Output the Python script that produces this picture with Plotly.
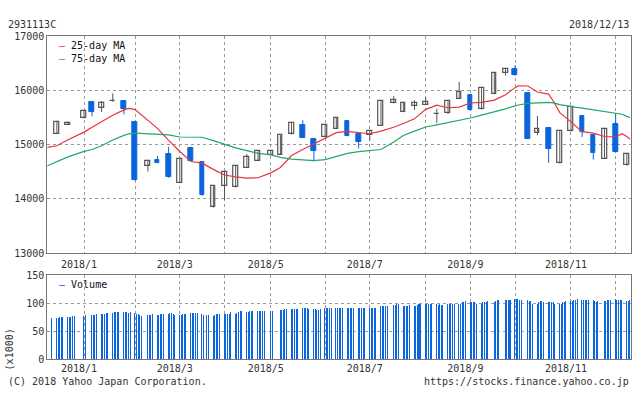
import plotly.graph_objects as go
import pandas as pd

# ---------------- data ----------------
candle_dates = ["2017-12-18", "2017-12-25", "2018-01-04", "2018-01-09", "2018-01-15", "2018-01-22",
                "2018-01-29", "2018-02-05", "2018-02-13", "2018-02-19", "2018-02-26", "2018-03-05",
                "2018-03-12", "2018-03-19", "2018-03-26", "2018-04-02", "2018-04-09", "2018-04-16",
                "2018-04-23", "2018-05-01", "2018-05-07", "2018-05-14", "2018-05-21", "2018-05-28",
                "2018-06-04", "2018-06-11", "2018-06-18", "2018-06-25", "2018-07-02", "2018-07-09",
                "2018-07-17", "2018-07-23", "2018-07-30", "2018-08-06", "2018-08-13", "2018-08-20",
                "2018-08-27", "2018-09-03", "2018-09-10", "2018-09-18", "2018-09-25", "2018-10-01",
                "2018-10-09", "2018-10-15", "2018-10-22", "2018-10-29", "2018-11-05", "2018-11-12",
                "2018-11-19", "2018-11-26", "2018-12-03", "2018-12-10"]
open_ = [15200, 15370, 15487, 15785, 15673, 15795, 15803, 15410, 14599, 14717, 14819, 14295,
         14945, 14682, 13848, 14234, 14216, 14574, 14706, 14814, 14814, 15190, 15361, 15111,
         15141, 15290, 15428, 15201, 15172, 15350, 15762, 15601, 15708, 15737, 15556, 15576,
         15844, 15905, 15648, 15934, 16317, 16394, 15959, 15218, 15302, 14653, 15243, 15529,
         15172, 14742, 15380, 14617]
high = [15420, 15425, 15625, 15790, 15803, 15946, 15810, 15410, 14700, 14789, 14962, 14735,
        14950, 14690, 14235, 14500, 14610, 14825, 14880, 14890, 15175, 15395, 15451, 15115,
        15365, 15499, 15432, 15205, 15255, 15802, 15898, 15766, 15816, 15869, 15660, 15802,
        16156, 15910, 16040, 16320, 16398, 16465, 15963, 15529, 15306, 15247, 15700, 15533,
        15176, 15302, 15571, 14836]
low = [15195, 15365, 15485, 15522, 15601, 15790, 15558, 14340, 14503, 14660, 14390, 14290,
       14690, 14060, 13840, 13980, 14210, 14570, 14700, 14810, 14810, 15185, 15125, 14694,
       15135, 15285, 15155, 14932, 15082, 15345, 15758, 15597, 15637, 15733, 15397, 15560,
       15840, 15626, 15644, 15930, 16274, 16270, 15107, 15172, 14664, 14649, 15239, 15141,
       14724, 14738, 14857, 14613]
close = [15410, 15405, 15619, 15601, 15767, 15800, 15648, 14349, 14694, 14664, 14395, 14730,
         14694, 14068, 14229, 14497, 14604, 14766, 14873, 14885, 15172, 15392, 15129, 14873,
         15361, 15481, 15159, 15039, 15249, 15798, 15816, 15762, 15767, 15785, 15560, 15798,
         15977, 15630, 16036, 16317, 16394, 16274, 15111, 15279, 14914, 15243, 15696, 15231,
         14843, 15279, 14861, 14832]

ma_dates = ["2017-12-12", "2017-12-18", "2017-12-25", "2018-01-04", "2018-01-09", "2018-01-15",
            "2018-01-22", "2018-01-29", "2018-02-01", "2018-02-05", "2018-02-13", "2018-02-19",
            "2018-02-26", "2018-03-05", "2018-03-12", "2018-03-19", "2018-03-26", "2018-04-02",
            "2018-04-09", "2018-04-16", "2018-04-23", "2018-05-01", "2018-05-07", "2018-05-14",
            "2018-05-21", "2018-05-28", "2018-06-04", "2018-06-11", "2018-06-18", "2018-06-25",
            "2018-07-02", "2018-07-09", "2018-07-17", "2018-07-23", "2018-07-30", "2018-08-06",
            "2018-08-13", "2018-08-20", "2018-08-27", "2018-09-03", "2018-09-10", "2018-09-18",
            "2018-09-25", "2018-10-01", "2018-10-03", "2018-10-09", "2018-10-15", "2018-10-22",
            "2018-10-25", "2018-10-29", "2018-11-02", "2018-11-05", "2018-11-12", "2018-11-19",
            "2018-11-26", "2018-12-03", "2018-12-07", "2018-12-10", "2018-12-12"]
ma25 = [14950, 14980, 15090, 15231, 15320, 15425,
        15540, 15640, 15666, 15645, 15450, 15300,
        15080, 14873, 14690, 14660, 14545, 14440,
        14405, 14384, 14390, 14480, 14580, 14800,
        14910, 15010, 15120, 15220, 15243, 15225,
        15201, 15250, 15320, 15390, 15475, 15650,
        15726, 15680, 15690, 15767, 15780, 15820,
        15920, 16050, 16084, 16080, 15970, 15930,
        15800, 15590, 15499, 15420, 15240, 15213,
        15150, 15145, 15200, 15150, 15100]
ma75 = [14610, 14690, 14775, 14875, 14910, 14980,
        15085, 15170, 15200, 15213, 15200, 15195,
        15180, 15141, 15136, 15136, 15075, 15010,
        14940, 14890, 14840, 14812, 14765, 14735,
        14718, 14707, 14724, 14775, 14840, 14870,
        14890, 14910, 15050, 15170, 15250, 15325,
        15365, 15405, 15440, 15490, 15545, 15603,
        15660, 15715, 15730, 15760, 15770, 15779,
        15770, 15737, 15719, 15700, 15672, 15640,
        15605, 15580, 15560, 15520, 15499]

market_holidays = ["2018-01-01", "2018-01-02", "2018-01-03", "2018-01-08", "2018-02-12", "2018-03-21",
                   "2018-04-30", "2018-05-03", "2018-05-04", "2018-07-16", "2018-09-17", "2018-09-24",
                   "2018-10-08", "2018-11-23"]

volume_k = [73,
            73, 74, 75, 75, 75,
            75, 75, 75, 76, 77,
            77, 78,
            78, 79, 79, 80,
            80, 81, 81, 82, 82,
            83, 84, 84, 84, 84,
            84, 84, 84, 83, 84,
            82, 81, 80, 79, 77,
            78, 78, 79, 80,
            78, 79, 80, 80, 80,
            81, 82, 82, 81, 79,
            79, 79, 80, 81, 81,
            82, 82, 82, 82, 82,
            81, 79, 78, 78,
            77, 79, 80, 80, 81,
            81, 80, 80, 81, 84,
            81, 83, 84, 85, 85,
            84, 84, 85, 86, 86,
            86, 86, 86, 86, 86,
            86, 86,
            87, 87, 88, 89, 90,
            90, 90, 90, 90, 90,
            91, 91, 91, 91, 90,
            90, 89, 88, 88, 90,
            91, 91, 91, 92, 92,
            92, 92, 92, 92, 92,
            92, 92, 92, 92, 91,
            92, 91, 91, 91, 91,
            92, 92, 92, 92, 92,
            94, 94, 95, 95, 95,
            96, 97, 98, 98,
            95, 95, 95, 95, 97,
            95, 95, 96, 98, 98,
            98, 99, 98, 98, 98,
            98, 97, 98, 97, 97,
            98, 98, 98, 99, 99,
            99, 99, 101, 102, 103,
            101, 101, 101, 101, 99,
            99, 101, 101, 101, 103,
            101, 103, 105, 105,
            105, 105, 105, 106,
            107, 107, 107, 106, 106,
            105, 104, 103, 99,
            99, 101, 103, 103, 101,
            101, 101, 101, 101, 98,
            98, 99, 101, 101, 103,
            103, 104, 105, 106, 107,
            106, 105, 105, 105, 105,
            105, 103, 101, 103,
            103, 104, 105, 106, 106,
            107, 106, 105, 105, 105,
            103, 103, 105, 105]

month_grid_dates = ["2018-01-04", "2018-02-05", "2018-03-05", "2018-04-02", "2018-05-01", "2018-06-04",
                    "2018-07-02", "2018-08-06", "2018-09-03", "2018-10-01", "2018-11-05", "2018-12-03"]
month_labels = ["2018/1", "", "2018/3", "", "2018/5", "", "2018/7", "", "2018/9", "", "2018/11", ""]
price_ticks = [13000, 14000, 15000, 16000, 17000]
volume_ticks = [0, 50, 100, 150]

# ---------------- styling ----------------
W, H = 634, 394
BLUE = "#0a64dc"
BLUE_BAR = "rgba(10,100,220,0.995)"   # alpha < 1 -> plotly rounds thin bars to 1px instead of widening
UPLINE = "#555555"
RED = "#e8343c"
GREEN = "#1fa866"
FONT = "DejaVu Sans Mono"
DAY_MS = 86400000

trade_days = pd.bdate_range("2017-12-15", "2018-12-13", freq="C", holidays=market_holidays)
n = min(len(trade_days), len(volume_k))
trade_days = trade_days[:n]
vols = volume_k[:n]

up_idx = [i for i in range(len(candle_dates)) if close[i] >= open_[i]]
dn_idx = [i for i in range(len(candle_dates)) if close[i] < open_[i]]


def wick_xy(idx):
    xs, ys = [], []
    for i in idx:
        xs += [candle_dates[i], candle_dates[i], None]
        ys += [low[i], high[i], None]
    return xs, ys


fig = go.Figure()

for idx, col in ((up_idx, UPLINE), (dn_idx, BLUE)):
    wx, wy = wick_xy(idx)
    fig.add_trace(go.Scatter(x=wx, y=wy, mode="lines", line=dict(color=col, width=1),
                             hoverinfo="skip", xaxis="x", yaxis="y"))

fig.add_trace(go.Scatter(x=ma_dates, y=ma25, mode="lines", line=dict(color=RED, width=1.2),
                         name="25-day MA", xaxis="x", yaxis="y"))
fig.add_trace(go.Scatter(x=ma_dates, y=ma75, mode="lines", line=dict(color=GREEN, width=1.2),
                         name="75-day MA", xaxis="x", yaxis="y"))

fig.add_trace(go.Bar(x=[candle_dates[i] for i in up_idx],
                     y=[max(close[i] - open_[i], 4) for i in up_idx],
                     base=[open_[i] for i in up_idx],
                     width=2.9 * DAY_MS,
                     marker=dict(color="white", line=dict(color=UPLINE, width=1.2)),
                     xaxis="x", yaxis="y"))
fig.add_trace(go.Bar(x=[candle_dates[i] for i in dn_idx],
                     y=[open_[i] - close[i] for i in dn_idx],
                     base=[close[i] for i in dn_idx],
                     width=2.9 * DAY_MS,
                     marker=dict(color=BLUE, line=dict(color=BLUE, width=1)),
                     xaxis="x", yaxis="y"))

fig.add_trace(go.Bar(x=trade_days, y=vols, width=0.63 * DAY_MS,
                     marker=dict(color=BLUE_BAR, line=dict(width=0)),
                     name="Volume", xaxis="x2", yaxis="y2"))

xdom = [47.3 / W, 630.7 / W]
xrange_ = ["2017-12-12 00:00", "2018-12-12 10:00"]
grid = dict(showgrid=True, gridcolor="#9a9a9a", gridwidth=1, griddash="3px,3px",
            showline=True, mirror=True, linecolor="#777777", linewidth=1,
            ticks="", zeroline=False, tickfont=dict(family=FONT, size=10, color="#333333"))

fig.update_layout(
    width=W, height=H, margin=dict(l=0, r=0, t=0, b=0),
    paper_bgcolor="white", plot_bgcolor="white",
    showlegend=False, barmode="overlay", bargap=0,
    font=dict(family=FONT, size=10, color="#333333"),
    xaxis=dict(domain=xdom, type="date", range=xrange_, tickvals=month_grid_dates,
               ticktext=month_labels, ticklabelshift=-5, ticklabelstandoff=2, anchor="y", **grid),
    yaxis=dict(domain=[1 - 255 / H, 1 - 31 / H], range=[13000, 17000], tickvals=price_ticks,
               ticktext=[str(v) for v in price_ticks], anchor="x", **grid),
    xaxis2=dict(domain=xdom, type="date", range=xrange_, tickvals=month_grid_dates,
                ticktext=month_labels, ticklabelshift=-5, anchor="y2", **grid),
    yaxis2=dict(domain=[1 - 364.3 / H, 1 - 277.6 / H], range=[0, 150], tickvals=volume_ticks,
                ticktext=[str(v) for v in volume_ticks], anchor="x2", **grid),
)


def ann(text, x, y, xanchor="left", angle=0, color="#333333"):
    fig.add_annotation(text=text, x=x / W, y=1 - y / H, xref="paper", yref="paper",
                       xanchor=xanchor, yanchor="middle", showarrow=False, textangle=angle,
                       font=dict(family=FONT, size=10, color=color))


ann("2931113C", 6, 19.5)
ann("2018/12/13", 631, 19.5, xanchor="right")
ann(f'<span style="color:{RED}">\u2013</span> 25-day MA', 56.5, 41, color="#111111")
ann(f'<span style="color:{GREEN}">\u2013</span> 75-day MA', 56.5, 54, color="#111111")
ann(f'<span style="color:{BLUE}">\u2013</span> Volume', 56.5, 287, color="#111111")
ann("(x1000)", 9.7, 354.5, xanchor="center", angle=-90)
ann("(C) 2018 Yahoo Japan Corporation.", 6, 387)
ann("https://stocks.finance.yahoo.co.jp", 631, 387, xanchor="right")

page_css = ("var s=document.createElement('style');"
            "s.textContent='html,body{margin:0;padding:0;overflow:hidden}';"
            "document.head.appendChild(s);")
fig.write_html("out.html", post_script=page_css, config={"displayModeBar": False})
